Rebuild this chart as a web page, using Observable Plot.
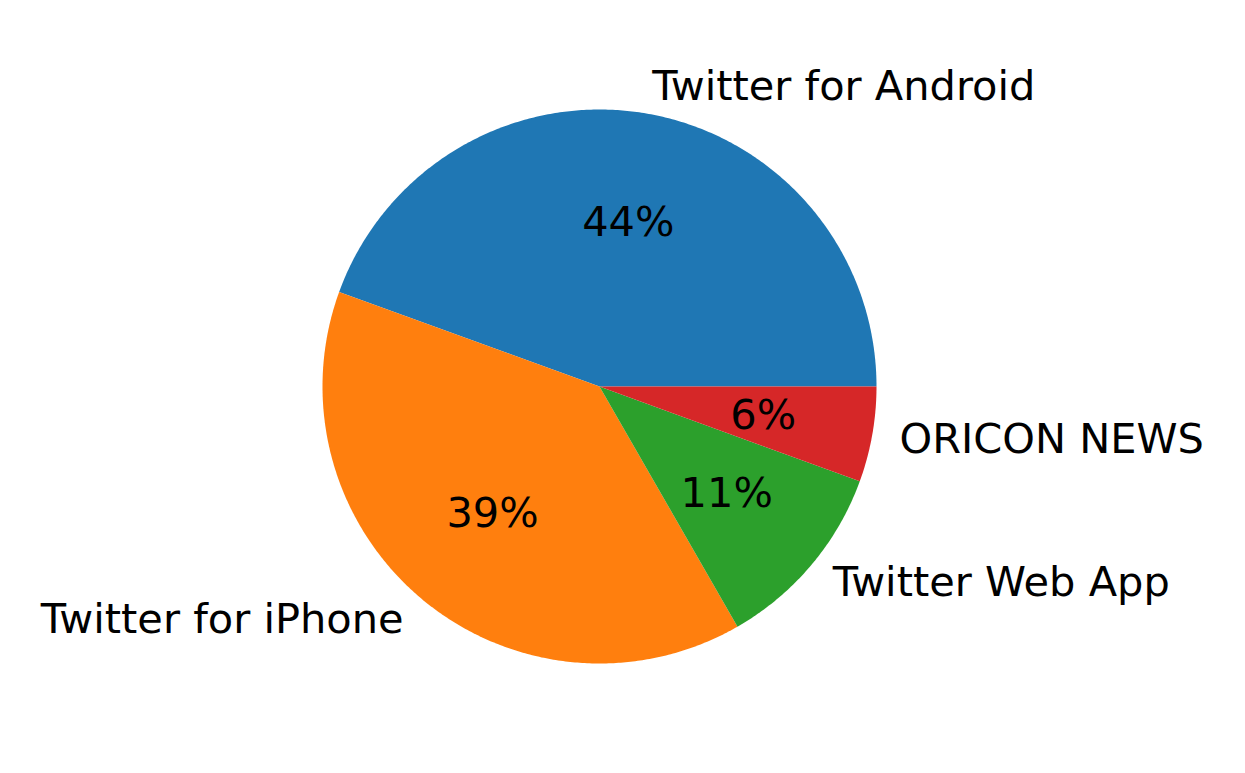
<!DOCTYPE html>
<html>
<head>
<meta charset="utf-8">
<script src="https://cdn.jsdelivr.net/npm/d3@7"></script>
<script src="https://cdn.jsdelivr.net/npm/@observablehq/plot@0.6"></script>
<style>
  html, body { margin: 0; padding: 0; background: #fff; }
</style>
</head>
<body>
<div id="chart"></div>
<script>
const labels = ["Twitter for Android", "Twitter for iPhone", "Twitter Web App", "ORICON NEWS"];
const shares = [44.46, 38.85, 11.14, 5.56];
const colors = ["#1f77b4", "#ff7f0e", "#2ca02c", "#d62728"];

const W = 1245, H = 773;
const total = d3.sum(shares);

// Build slices: start at angle 0 (east), counter-clockwise, like matplotlib
let acc = 0;
const slices = labels.map((label, i) => {
  const a0 = acc / total * 2 * Math.PI;
  acc += shares[i];
  const a1 = acc / total * 2 * Math.PI;
  return {label, value: shares[i], a0, a1, mid: (a0 + a1) / 2, color: colors[i]};
});

const wedgePts = [];
for (const s of slices) {
  wedgePts.push({label: s.label, x: 0, y: 0});
  const n = Math.max(4, Math.ceil((s.a1 - s.a0) / (Math.PI / 360)));
  for (let k = 0; k <= n; k++) {
    const a = s.a0 + (s.a1 - s.a0) * k / n;
    wedgePts.push({label: s.label, x: Math.cos(a), y: Math.sin(a)});
  }
  wedgePts.push({label: s.label, x: 0, y: 0});
}

const outer = slices.map(s => ({
  text: s.label,
  x: 1.1 * Math.cos(s.mid),
  y: 1.1 * Math.sin(s.mid),
  anchor: Math.cos(s.mid) >= 0 ? "start" : "end"
}));
const inner = slices.map(s => ({
  text: Math.round(s.value / total * 100) + "%",
  x: 0.6 * Math.cos(s.mid),
  y: 0.6 * Math.sin(s.mid)
}));

// pixel geometry: center (599,386), radius 277
const cx = 599, cy = 386, R = 277;
const xDomain = [-cx / R, (W - cx) / R];
const yDomain = [(cy - H) / R, cy / R];
const FS = 41.5;

const chart = Plot.plot({
  width: W,
  height: H,
  margin: 0,
  style: {fontFamily: "DejaVu Sans", background: "white"},
  x: {domain: xDomain, axis: null},
  y: {domain: yDomain, axis: null},
  color: {domain: labels, range: colors},
  marks: [
    Plot.line(wedgePts, {x: "x", y: "y", z: "label", fill: "label", stroke: null, curve: "linear"}),
    Plot.text(outer.filter(d => d.anchor === "start"), {x: "x", y: "y", text: "text", textAnchor: "start", fontSize: FS, fill: "black"}),
    Plot.text(outer.filter(d => d.anchor === "end"), {x: "x", y: "y", text: "text", textAnchor: "end", fontSize: FS, fill: "black"}),
    Plot.text(inner, {x: "x", y: "y", text: "text", textAnchor: "middle", fontSize: FS, fill: "black"})
  ]
});
document.getElementById("chart").appendChild(chart);
</script>
</body>
</html>
